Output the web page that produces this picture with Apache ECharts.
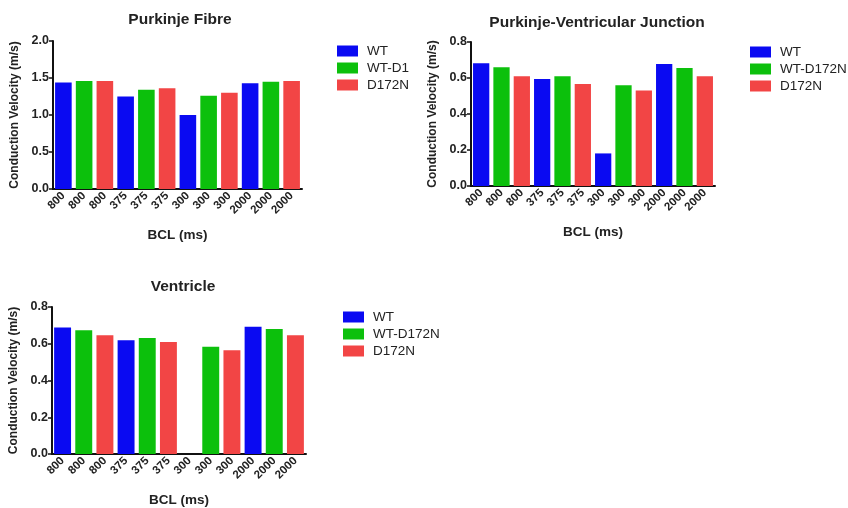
<!DOCTYPE html>
<html>
<head>
<meta charset="utf-8">
<script src="https://cdn.jsdelivr.net/npm/echarts@6/dist/echarts.min.js"></script>
<style>
  html, body { margin: 0; padding: 0; background: #fff; }
  #chart { width: 848px; height: 508px; }
</style>
</head>
<body>
<div id="chart"></div>
<script>
// one bar per category, cycling WT / WT-D172N / D172N
const bcl = ["800", "375", "300", "2000"];
const colors = ["#0a0af2", "#0cc00c", "#f24545"];

const fibreNames = ["WT", "WT-D1", "D172N"];
const fibreWT = [1.44, 1.25, 1.00, 1.43];
const fibreMix = [1.46, 1.34, 1.26, 1.45];
const fibreD172N = [1.46, 1.36, 1.30, 1.46];

const pvjNames = ["WT", "WT-D172N", "D172N"];
const pvjWT = [0.682, 0.595, 0.181, 0.678];
const pvjMix = [0.66, 0.61, 0.56, 0.656];
const pvjD172N = [0.61, 0.567, 0.53, 0.61];

const ventNames = ["WT", "WT-D172N", "D172N"];
const ventWT = [0.689, 0.619, null, 0.692];
const ventMix = [0.674, 0.631, 0.583, 0.68];
const ventD172N = [0.646, 0.61, 0.565, 0.646];

const font = 'Arial, "Liberation Sans", sans-serif';

// x categories: each BCL repeated three times
const cats = [];
bcl.forEach(b => { cats.push(b, b, b); });

function spread(values, k) {
  const out = [];
  values.forEach(v => {
    for (let j = 0; j < 3; j++) out.push(j === k ? v : null);
  });
  return out;
}

const panels = [
  { title: "Purkinje Fibre", names: fibreNames, sets: [fibreWT, fibreMix, fibreD172N],
    grid: { left: 53, top: 41, width: 249, height: 148 }, max: 2.0, interval: 0.5,
    titleX: 175, titleY: 7, legend: { left: 332, top: 39 } },
  { title: "Purkinje-Ventricular Junction", names: pvjNames, sets: [pvjWT, pvjMix, pvjD172N],
    grid: { left: 471, top: 42, width: 244, height: 144 }, max: 0.8, interval: 0.2,
    titleX: 592, titleY: 10, legend: { left: 745, top: 40 } },
  { title: "Ventricle", names: ventNames, sets: [ventWT, ventMix, ventD172N],
    grid: { left: 52, top: 307, width: 254, height: 149 }, max: 0.8, interval: 0.2,
    titleX: 178, titleY: 274, legend: { left: 338, top: 305 } }
];

const option = {
  animation: false,
  backgroundColor: "#fff",
  title: [], grid: [], xAxis: [], yAxis: [], legend: [], series: []
};

panels.forEach((p, i) => {
  option.title.push({
    text: p.title, left: p.titleX, top: p.titleY, textAlign: "center",
    textStyle: { fontFamily: font, fontSize: 15.5, fontWeight: "bold", color: "#222" }
  });
  option.grid.push(p.grid);
  option.xAxis.push({
    type: "category", gridIndex: i, data: cats,
    name: "BCL (ms)", nameLocation: "middle", nameGap: 39,
    nameTextStyle: { fontFamily: font, fontSize: 13.5, fontWeight: "bold", color: "#222" },
    axisLine: { lineStyle: { color: "#111", width: 2 } },
    axisTick: { alignWithLabel: true, length: 4, lineStyle: { color: "#111", width: 1.5 } },
    axisLabel: { rotate: 45, interval: 0, margin: 5, fontFamily: font, fontSize: 11.5,
      fontWeight: "bold", color: "#222" }
  });
  option.yAxis.push({
    type: "value", gridIndex: i, min: 0, max: p.max, interval: p.interval,
    name: "Conduction Velocity (m/s)", nameLocation: "middle", nameRotate: 90, nameGap: 32,
    nameTextStyle: { fontFamily: font, fontSize: 12, fontWeight: "bold", color: "#222" },
    splitLine: { show: false },
    axisLine: { show: true, lineStyle: { color: "#111", width: 2 } },
    axisTick: { show: true, length: 4, lineStyle: { color: "#111", width: 1.5 } },
    axisLabel: { margin: 4, fontFamily: font, fontSize: 12.5, fontWeight: "bold", color: "#222",
      formatter: v => v.toFixed(1) }
  });
  option.legend.push({
    orient: "vertical", left: p.legend.left, top: p.legend.top,
    data: p.names, itemWidth: 21, itemHeight: 11, itemGap: 3, icon: "rect",
    selectedMode: false,
    textStyle: { fontFamily: font, fontSize: 13.5, color: "#222", padding: [0, 0, 0, 4] }
  });
  p.sets.forEach((vals, k) => {
    option.series.push({
      type: "bar", name: p.names[k], xAxisIndex: i, yAxisIndex: i,
      data: spread(vals, k), barGap: "-100%", barCategoryGap: "20%",
      itemStyle: { color: colors[k] }
    });
  });
});

const chart = echarts.init(document.getElementById("chart"));
chart.setOption(option);
</script>
</body>
</html>
